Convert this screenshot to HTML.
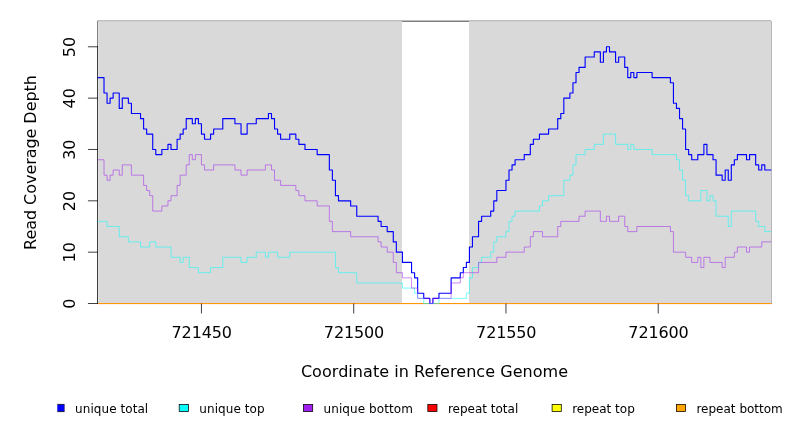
<!DOCTYPE html>
<html><head><meta charset="utf-8"><title>Read Coverage Depth</title>
<style>html,body{margin:0;padding:0;background:#fff}svg{display:block}</style></head>
<body>
<svg width="792" height="432" viewBox="0 0 792 432">
<rect x="0" y="0" width="792" height="432" fill="#fff"/>
<g shape-rendering="crispEdges">
<rect x="98" y="20" width="673" height="1" fill="#bebebe"/>
<rect x="97" y="20" width="1" height="1" fill="#d0d0d0"/>
<rect x="402" y="21" width="67" height="1" fill="#808080"/>
<rect x="98" y="21" width="304" height="282" fill="#d9d9d9"/>
<rect x="469" y="21" width="302" height="282" fill="#d9d9d9"/>
<rect x="98" y="21" width="304" height="1" fill="#d0d0d0"/>
<rect x="469" y="21" width="302" height="1" fill="#d0d0d0"/>
<rect x="98" y="22" width="1" height="281" fill="#e2e2e2"/>
<rect x="771" y="21" width="1" height="282" fill="#b9b9b9"/>
<rect x="97" y="21" width="1" height="25" fill="#808080"/>
<rect x="97" y="46" width="1" height="258" fill="#404040"/>
<rect x="98" y="303" width="673" height="1" fill="#ff9805"/>
<rect x="98" y="304" width="673" height="1" fill="#fff0ee"/>
<rect x="771" y="303" width="1" height="1" fill="#e08c64"/>
</g>
<path d="M97.50 303.50H88.32M97.50 252.16H88.32M97.50 200.82H88.32M97.50 149.47H88.32M97.50 98.13H88.32M97.50 46.79H88.32M201.45 304.00V313.10M353.71 304.00V313.10M505.96 304.00V313.10M658.21 304.00V313.10" stroke="#000" stroke-width="0.75" stroke-linecap="round" fill="none"/>
<g>
</g>
<g fill="none" stroke-linejoin="round" stroke-linecap="round">
<path d="M97.92 77.60H104.01V93.00H107.06V103.27H110.10V98.13H113.15V93.00H119.24V108.40H122.28V98.13H128.37V103.27H131.42V113.54H140.55V118.67H143.60V128.94H146.64V134.07H152.73V149.47H155.78V154.61H161.87V149.47H167.96V144.34H171.00V149.47H177.09V139.21H180.14V134.07H183.18V128.94H186.23V118.67H192.32V123.80H195.36V118.67H198.41V123.80H201.45V134.07H204.50V139.21H210.59V134.07H213.63V128.94H222.77V118.67H234.95V123.80H241.04V134.07H247.13V123.80H256.26V118.67H268.44V113.54H271.49V118.67H274.53V128.94H277.58V134.07H280.62V139.21H289.76V134.07H295.85V139.21H298.89V144.34H304.98V149.47H317.16V154.61H329.35V170.01H332.39V180.28H335.44V195.68H338.48V200.82H350.66V205.95H356.75V216.22H378.07V221.35H381.11V226.49H387.20V231.62H393.29V241.89H396.34V252.16H402.43V262.43H411.56V272.69H414.61V277.83H417.65V293.23H423.74V298.37H429.83V303.50H432.88V298.37H438.97V293.23H451.15V277.83H460.28V272.69H463.33V267.56H466.37V262.43H469.42V247.02H472.46V236.76H478.55V221.35H481.60V216.22H490.73V211.08H493.78V200.82H496.82V190.55H505.96V180.28H509.00V170.01H512.05V164.88H515.09V159.74H524.23V154.61H530.32V144.34H533.36V139.21H539.45V134.07H548.59V128.94H557.73V118.67H560.77V113.54H563.82V98.13H569.91V93.00H572.95V82.73H576.00V72.46H579.04V67.33H585.13V57.06H594.27V51.93H600.36V62.19H603.40V51.93H606.45V46.79H609.49V51.93H615.58V62.19H618.63V57.06H624.72V67.33H627.76V77.60H630.81V72.46H633.85V77.60H636.90V72.46H652.12V77.60H670.39V82.73H673.44V103.27H676.48V108.40H679.53V118.67H682.57V128.94H685.62V149.47H688.66V154.61H691.71V159.74H697.80V154.61H703.89V144.34H706.93V154.61H713.02V159.74H716.07V175.15H722.16V180.28H725.20V170.01H728.25V180.28H731.29V164.88H734.34V159.74H737.38V154.61H746.52V159.74H749.56V154.61H755.65V164.88H758.70V170.01H761.74V164.88H764.79V170.01H770.88" stroke="#0000ff" stroke-width="1.125"/>
<path d="M97.92 221.35H107.06V226.49H119.24V236.76H128.37V241.89H140.55V247.02H149.69V241.89H155.78V247.02H171.00V257.29H180.14V262.43H183.18V257.29H189.27V267.56H198.41V272.69H210.59V267.56H222.77V257.29H241.04V262.43H247.13V257.29H256.26V252.16H265.40V257.29H268.44V252.16H277.58V257.29H289.76V252.16H335.44V267.56H338.48V272.69H356.75V282.96H402.43V288.10H414.61V293.23H417.65V298.37H423.74V303.50H438.97V298.37H466.37V293.23H469.42V277.83H472.46V267.56H478.55V262.43H481.60V257.29H490.73V252.16H493.78V241.89H496.82V236.76H505.96V231.62H509.00V221.35H512.05V216.22H515.09V211.08H539.45V205.95H542.50V200.82H548.59V195.68H563.82V180.28H569.91V175.15H572.95V164.88H576.00V154.61H585.13V149.47H594.27V144.34H603.40V134.07H615.58V144.34H627.76V149.47H630.81V144.34H633.85V149.47H652.12V154.61H676.48V159.74H679.53V170.01H682.57V180.28H685.62V195.68H688.66V200.82H700.84V190.55H706.93V200.82H709.98V195.68H713.02V200.82H716.07V216.22H728.25V226.49H731.29V211.08H755.65V221.35H758.70V226.49H764.79V231.62H770.88" stroke="#00ffff" stroke-width="0.525"/>
<path d="M97.92 159.74H104.01V175.15H107.06V180.28H110.10V175.15H113.15V170.01H119.24V175.15H122.28V164.88H131.42V175.15H143.60V185.41H146.64V190.55H149.69V195.68H152.73V211.08H161.87V205.95H167.96V200.82H171.00V195.68H177.09V185.41H180.14V175.15H186.23V164.88H189.27V154.61H192.32V159.74H195.36V154.61H201.45V164.88H204.50V170.01H213.63V164.88H234.95V170.01H241.04V175.15H247.13V170.01H265.40V164.88H271.49V170.01H274.53V180.28H280.62V185.41H295.85V190.55H298.89V195.68H304.98V200.82H317.16V205.95H329.35V221.35H332.39V231.62H350.66V236.76H378.07V241.89H381.11V247.02H387.20V252.16H393.29V262.43H396.34V272.69H402.43V277.83H411.56V288.10H417.65V298.37H429.83V303.50H432.88V298.37H451.15V282.96H460.28V277.83H463.33V272.69H478.55V262.43H496.82V257.29H505.96V252.16H524.23V247.02H530.32V236.76H533.36V231.62H542.50V236.76H557.73V226.49H560.77V221.35H579.04V216.22H585.13V211.08H600.36V221.35H606.45V216.22H609.49V221.35H618.63V216.22H624.72V226.49H627.76V231.62H636.90V226.49H670.39V231.62H673.44V252.16H685.62V257.29H691.71V262.43H697.80V257.29H700.84V267.56H703.89V257.29H709.98V262.43H722.16V267.56H725.20V257.29H734.34V252.16H737.38V247.02H746.52V252.16H749.56V247.02H761.74V241.89H770.88" stroke="#a020f0" stroke-width="0.525"/>
</g>
<g font-family="DejaVu Sans, Liberation Sans, sans-serif" font-size="16" fill="#000" text-anchor="middle">
<text x="201.75" y="338" textLength="60.3" lengthAdjust="spacing">721450</text>
<text x="354.01" y="338" textLength="60.3" lengthAdjust="spacing">721500</text>
<text x="506.26" y="338" textLength="60.3" lengthAdjust="spacing">721550</text>
<text x="658.51" y="338" textLength="60.3" lengthAdjust="spacing">721600</text>
<text transform="translate(75 303.70) rotate(-90)">0</text>
<text transform="translate(75 252.36) rotate(-90)">10</text>
<text transform="translate(75 201.02) rotate(-90)">20</text>
<text transform="translate(75 149.67) rotate(-90)">30</text>
<text transform="translate(75 98.33) rotate(-90)">40</text>
<text transform="translate(75 46.99) rotate(-90)">50</text>
<text x="300.9" y="377" text-anchor="start" textLength="267.2" lengthAdjust="spacing">Coordinate in Reference Genome</text>
<text transform="translate(36 249.9) rotate(-90)" text-anchor="start" textLength="174.8" lengthAdjust="spacing">Read Coverage Depth</text>
</g>
<g font-family="DejaVu Sans, Liberation Sans, sans-serif" font-size="12" fill="#000">
<rect x="57.3" y="404.4" width="7.1" height="7.2" fill="#0000ff"/>
<path d="M57.3 404.4H64.4M57.3 411.6H64.4" stroke="#000" stroke-width="0.75" fill="none"/>
<path d="M64.4 404.4V411.6" stroke="#000" stroke-opacity="0.45" stroke-width="0.75" fill="none"/>
<text x="75.05" y="413" textLength="73.15" lengthAdjust="spacing">unique total</text>
<rect x="179.20" y="404.4" width="9.2" height="7.2" fill="#00ffff" stroke="#000" stroke-width="0.75"/>
<text x="199.33" y="413" textLength="65.30" lengthAdjust="spacing">unique top</text>
<rect x="303.50" y="404.4" width="9.2" height="7.2" fill="#a020f0" stroke="#000" stroke-width="0.75"/>
<text x="323.61" y="413" textLength="89.27" lengthAdjust="spacing">unique bottom</text>
<rect x="427.80" y="404.4" width="9.2" height="7.2" fill="#ff0000" stroke="#000" stroke-width="0.75"/>
<text x="447.89" y="413" textLength="70.39" lengthAdjust="spacing">repeat total</text>
<rect x="552.10" y="404.4" width="9.2" height="7.2" fill="#ffff00" stroke="#000" stroke-width="0.75"/>
<text x="572.17" y="413" textLength="62.62" lengthAdjust="spacing">repeat top</text>
<rect x="676.40" y="404.4" width="9.2" height="7.2" fill="#ffa500" stroke="#000" stroke-width="0.75"/>
<text x="696.45" y="413" textLength="86.36" lengthAdjust="spacing">repeat bottom</text>
</g>
</svg>
</body></html>
